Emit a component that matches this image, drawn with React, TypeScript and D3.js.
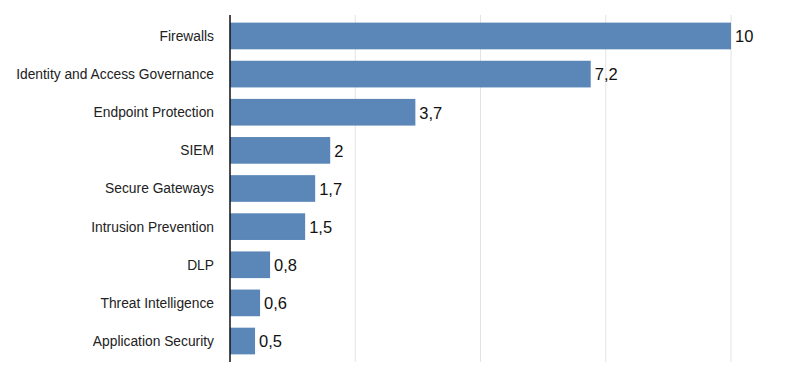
import React from "react";
import * as d3 from "d3";

const categories = [
  "Firewalls",
  "Identity and Access Governance",
  "Endpoint Protection",
  "SIEM",
  "Secure Gateways",
  "Intrusion Prevention",
  "DLP",
  "Threat Intelligence",
  "Application Security",
];
const values = [10, 7.2, 3.7, 2, 1.7, 1.5, 0.8, 0.6, 0.5];
const gridTicks = [2.5, 5, 7.5, 10];

const W = 811;
const H = 367;

export default function App() {
  const x = d3.scaleLinear().domain([0, 10]).range([230, 731]);
  const y = d3
    .scaleBand<string>()
    .domain(categories)
    .range([15, 362])
    .paddingInner(0.3)
    .paddingOuter(0.2);
  const fmt = (v: number) => String(v).replace(".", ",");
  const font = "'Liberation Sans', Arial, Helvetica, sans-serif";
  return (
    <svg
      width={W}
      height={H}
      style={{ position: "absolute", left: 0, top: 0, background: "#fff" }}
      fontFamily={font}
    >
      {gridTicks.map((t) => (
        <line
          key={t}
          x1={x(t)}
          x2={x(t)}
          y1={15}
          y2={362}
          stroke="#e3e3e3"
          strokeWidth={1}
        />
      ))}
      {categories.map((c, i) => (
        <g key={c}>
          <rect
            x={x(0)}
            y={y(c)!}
            width={x(values[i]) - x(0)}
            height={y.bandwidth()}
            fill="#5b87b8"
          />
          <text
            x={214}
            y={y(c)! + y.bandwidth() / 2}
            dy="0.36em"
            textAnchor="end"
            fontSize={13.8}
            fill="#222"
          >
            {c}
          </text>
          <text
            x={x(values[i]) + 4}
            y={y(c)! + y.bandwidth() / 2}
            dy="0.38em"
            textAnchor="start"
            fontSize={16.5}
            fill="#111"
          >
            {fmt(values[i])}
          </text>
        </g>
      ))}
      <line x1={230} x2={230} y1={15} y2={362} stroke="#111" strokeWidth={1.5} />
    </svg>
  );
}
